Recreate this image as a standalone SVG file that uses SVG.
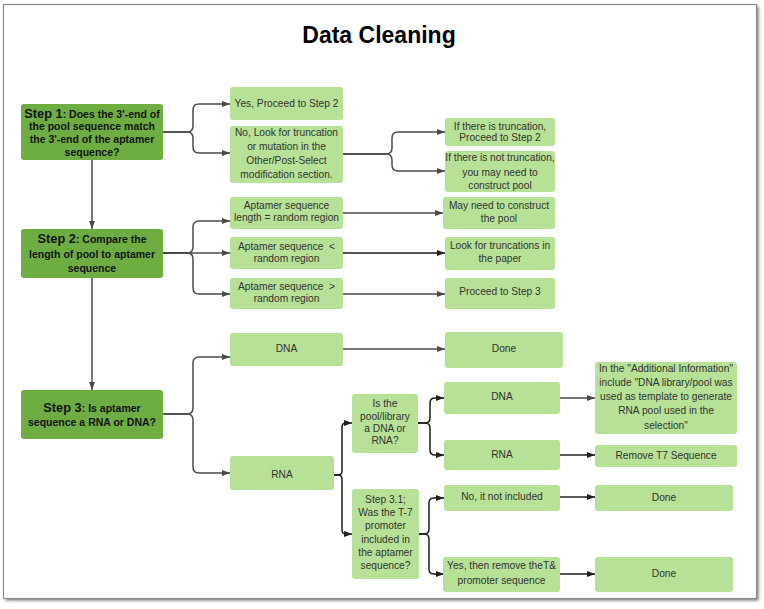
<svg xmlns="http://www.w3.org/2000/svg" width="764" height="609" viewBox="0 0 764 609">
<style>
.frame{fill:#fff;stroke:#8c8c8c;stroke-width:1.2}
.dk{fill:#6dad41}
.lt{fill:#b7e196}
.t{font-family:"Liberation Sans",Arial,sans-serif;font-size:10.2px;fill:#333;text-anchor:middle}
.s{font-family:"Liberation Sans",Arial,sans-serif;font-size:10.5px;font-weight:bold;fill:#141414;text-anchor:middle}
.big{font-size:12.8px}
.title{font-family:"Liberation Sans",Arial,sans-serif;font-size:23px;font-weight:bold;fill:#000;text-anchor:middle}
.c{fill:none;stroke:#4a4a4a;stroke-width:1.5}
.c2{fill:none;stroke:#1e1e1e;stroke-width:1.5}
</style>
<defs>
<filter id="sh" x="-5%" y="-5%" width="110%" height="110%">
<feGaussianBlur stdDeviation="1.5"/>
</filter>
<marker id="a" viewBox="0 0 8 6" refX="8" refY="3" markerWidth="8" markerHeight="6" markerUnits="userSpaceOnUse" orient="auto">
<path d="M0,0 L8,3 L0,6 Z" fill="#4a4a4a"/>
</marker>
<marker id="b" viewBox="0 0 8 6" refX="8" refY="3" markerWidth="8" markerHeight="6" markerUnits="userSpaceOnUse" orient="auto">
<path d="M0,0 L8,3 L0,6 Z" fill="#1e1e1e"/>
</marker>
</defs>
<rect x="0" y="0" width="764" height="609" fill="#fff"/>
<rect x="5.5" y="6.5" width="753" height="594" fill="#777" filter="url(#sh)"/>
<rect class="frame" x="3.5" y="4.5" width="753" height="594"/>
<text class="title" x="379" y="43">Data Cleaning</text>

<g id="connectors">
<path class="c" d="M92,160 V229" marker-end="url(#a)"/>
<path class="c" d="M92,278 V390" marker-end="url(#a)"/>
<path class="c" d="M163,132 H187 Q193,132 193,126 V110 Q193,104 199,104 H230" marker-end="url(#a)"/>
<path class="c" d="M163,132 H187 Q193,132 193,138 V147 Q193,153 199,153 H230" marker-end="url(#a)"/>
<path class="c" d="M343,154 H386 Q392,154 392,148 V138 Q392,132 398,132 H445" marker-end="url(#a)"/>
<path class="c" d="M343,154 H386 Q392,154 392,160 V165 Q392,171 398,171 H445" marker-end="url(#a)"/>
<path class="c" d="M163,253 H187 Q193,253 193,247 V227 Q193,221 199,221 H230" marker-end="url(#a)"/>
<path class="c" d="M163,253 H230" marker-end="url(#a)"/>
<path class="c" d="M163,253 H187 Q193,253 193,259 V288 Q193,294 199,294 H230" marker-end="url(#a)"/>
<path class="c" d="M343,213 H443" marker-end="url(#a)"/>
<path class="c2" d="M343,253 H445" marker-end="url(#b)"/>
<path class="c" d="M343,294 H445" marker-end="url(#a)"/>
<path class="c" d="M163,414 H187 Q193,414 193,408 V363 Q193,357 199,357 H230" marker-end="url(#a)"/>
<path class="c" d="M163,414 H187 Q193,414 193,420 V467 Q193,473 199,473 H230" marker-end="url(#a)"/>
<path class="c" d="M343,349 H445" marker-end="url(#a)"/>
<path class="c2" d="M334,475 H338 Q342,475 342,471 V427 Q342,423 346,423 H352" marker-end="url(#b)"/>
<path class="c2" d="M334,475 H338 Q342,475 342,479 V530 Q342,534 346,534 H352" marker-end="url(#b)"/>
<path class="c2" d="M418,423 H425 Q430,423 430,418 V403 Q430,398 435,398 H444" marker-end="url(#b)"/>
<path class="c2" d="M418,423 H425 Q430,423 430,428 V450 Q430,455 435,455 H444" marker-end="url(#b)"/>
<path class="c" d="M560,398 H595" marker-end="url(#a)"/>
<path class="c2" d="M560,455 H595" marker-end="url(#b)"/>
<path class="c2" d="M419,534 H424 Q429,534 429,529 V503 Q429,498 434,498 H444" marker-end="url(#b)"/>
<path class="c2" d="M419,534 H424 Q429,534 429,539 V569 Q429,574 434,574 H444" marker-end="url(#b)"/>
<path class="c2" d="M560,497 H595" marker-end="url(#b)"/>
<path class="c2" d="M560,574 H595" marker-end="url(#b)"/>
</g>

<g id="step1">
<rect class="dk" x="21" y="104" width="142" height="56" rx="3"/>
<text class="s" x="92" y="118"><tspan class="big">Step 1</tspan>: Does the 3'-end of</text>
<text class="s" x="92" y="129.8">the pool sequence match</text>
<text class="s" x="92" y="143">the 3'-end of the aptamer</text>
<text class="s" x="92" y="155.5">sequence?</text>
</g>
<g id="yes1">
<rect class="lt" x="230" y="87" width="113" height="33" rx="3"/>
<text class="t" x="286.5" y="107">Yes, Proceed to Step 2</text>
</g>
<g id="no1">
<rect class="lt" x="230" y="126" width="113" height="57" rx="3"/>
<text class="t" x="286.5" y="135.9">No, Look for truncation</text>
<text class="t" x="286.5" y="149.9">or mutation in the</text>
<text class="t" x="286.5" y="164.3">Other/Post-Select</text>
<text class="t" x="286.5" y="177.6">modification section.</text>
</g>
<g id="trunc">
<rect class="lt" x="445" y="118" width="110" height="28" rx="3"/>
<text class="t" x="500" y="129.6">If there is truncation,</text>
<text class="t" x="500" y="141">Proceed to Step 2</text>
</g>
<g id="notrunc">
<rect class="lt" x="445" y="151" width="110" height="41" rx="3"/>
<text class="t" x="500" y="161">If there is not truncation,</text>
<text class="t" x="500" y="175.5">you may need to</text>
<text class="t" x="500" y="189">construct pool</text>
</g>

<g id="step2">
<rect class="dk" x="21" y="229" width="142" height="49" rx="3"/>
<text class="s" x="92" y="242.5"><tspan class="big">Step 2</tspan>: Compare the</text>
<text class="s" x="92" y="257.8">length of pool to aptamer</text>
<text class="s" x="92" y="271.5">sequence</text>
</g>
<g id="eq">
<rect class="lt" x="230" y="197" width="113" height="32" rx="3"/>
<text class="t" x="286.5" y="209.3">Aptamer sequence</text>
<text class="t" x="286.5" y="221.3">length = random region</text>
</g>
<g id="lt">
<rect class="lt" x="230" y="237" width="113" height="32" rx="3"/>
<text class="t" x="286.5" y="249.6">Aptamer sequence&#160; &lt;</text>
<text class="t" x="286.5" y="262.3">random region</text>
</g>
<g id="gt">
<rect class="lt" x="230" y="278" width="113" height="31" rx="3"/>
<text class="t" x="286.5" y="290.3">Aptamer sequence&#160; &gt;</text>
<text class="t" x="286.5" y="302.3">random region</text>
</g>
<g id="construct">
<rect class="lt" x="443" y="197" width="112" height="32" rx="3"/>
<text class="t" x="499" y="208.6">May need to construct</text>
<text class="t" x="499" y="221.9">the pool</text>
</g>
<g id="look">
<rect class="lt" x="445" y="237" width="110" height="33" rx="3"/>
<text class="t" x="500" y="248.6">Look for truncations in</text>
<text class="t" x="500" y="262.3">the paper</text>
</g>
<g id="proceed3">
<rect class="lt" x="445" y="278" width="110" height="31" rx="3"/>
<text class="t" x="500" y="295.3">Proceed to Step 3</text>
</g>

<g id="step3">
<rect class="dk" x="21" y="390" width="142" height="49" rx="3"/>
<text class="s" x="92" y="411.5"><tspan class="big">Step 3</tspan>: Is aptamer</text>
<text class="s" x="92" y="425.5">sequence a RNA or DNA?</text>
</g>
<g id="dna1">
<rect class="lt" x="230" y="333" width="113" height="33" rx="3"/>
<text class="t" x="286.5" y="352">DNA</text>
</g>
<g id="done1">
<rect class="lt" x="445" y="332" width="118" height="36" rx="3"/>
<text class="t" x="504" y="352">Done</text>
</g>
<g id="rna1">
<rect class="lt" x="230" y="456" width="104" height="34" rx="3"/>
<text class="t" x="282" y="477.5">RNA</text>
</g>
<g id="pool">
<rect class="lt" x="352" y="394" width="66" height="59" rx="3"/>
<text class="t" x="385" y="407">Is the</text>
<text class="t" x="385" y="420.3">pool/library</text>
<text class="t" x="385" y="432.3">a DNA or</text>
<text class="t" x="385" y="444.3">RNA?</text>
</g>
<g id="dna2">
<rect class="lt" x="444" y="382" width="116" height="32" rx="3"/>
<text class="t" x="502" y="400.3">DNA</text>
</g>
<g id="rna2">
<rect class="lt" x="444" y="440" width="116" height="30" rx="3"/>
<text class="t" x="502" y="458">RNA</text>
</g>
<g id="addinfo">
<rect class="lt" x="595" y="362" width="142" height="72" rx="3"/>
<text class="t" x="666" y="372">In the "Additional Information"</text>
<text class="t" x="666" y="386.3">include "DNA library/pool was</text>
<text class="t" x="666" y="400.3">used as template to generate</text>
<text class="t" x="666" y="414.3">RNA pool used in the</text>
<text class="t" x="666" y="428.6">selection"</text>
</g>
<g id="removet7">
<rect class="lt" x="595" y="445" width="142" height="22" rx="3"/>
<text class="t" x="666" y="458.6">Remove T7 Sequence</text>
</g>
<g id="step31">
<rect class="lt" x="352" y="489" width="67" height="90" rx="3"/>
<text class="t" x="385.5" y="502.5">Step 3.1;</text>
<text class="t" x="385.5" y="515.7">Was the T-7</text>
<text class="t" x="385.5" y="529.3">promoter</text>
<text class="t" x="385.5" y="542.5">included in</text>
<text class="t" x="385.5" y="556.1">the aptamer</text>
<text class="t" x="385.5" y="569.3">sequence?</text>
</g>
<g id="notincl">
<rect class="lt" x="444" y="485" width="116" height="26" rx="3"/>
<text class="t" x="502" y="500">No, it not included</text>
</g>
<g id="done2">
<rect class="lt" x="595" y="485" width="138" height="26" rx="3"/>
<text class="t" x="664" y="500.6">Done</text>
</g>
<g id="yesremove">
<rect class="lt" x="443" y="557" width="117" height="35" rx="3"/>
<text class="t" x="501.5" y="569.3">Yes, then remove theT&amp;</text>
<text class="t" x="501.5" y="584">promoter sequence</text>
</g>
<g id="done3">
<rect class="lt" x="595" y="557" width="138" height="35" rx="3"/>
<text class="t" x="664" y="576.5">Done</text>
</g>
</svg>
